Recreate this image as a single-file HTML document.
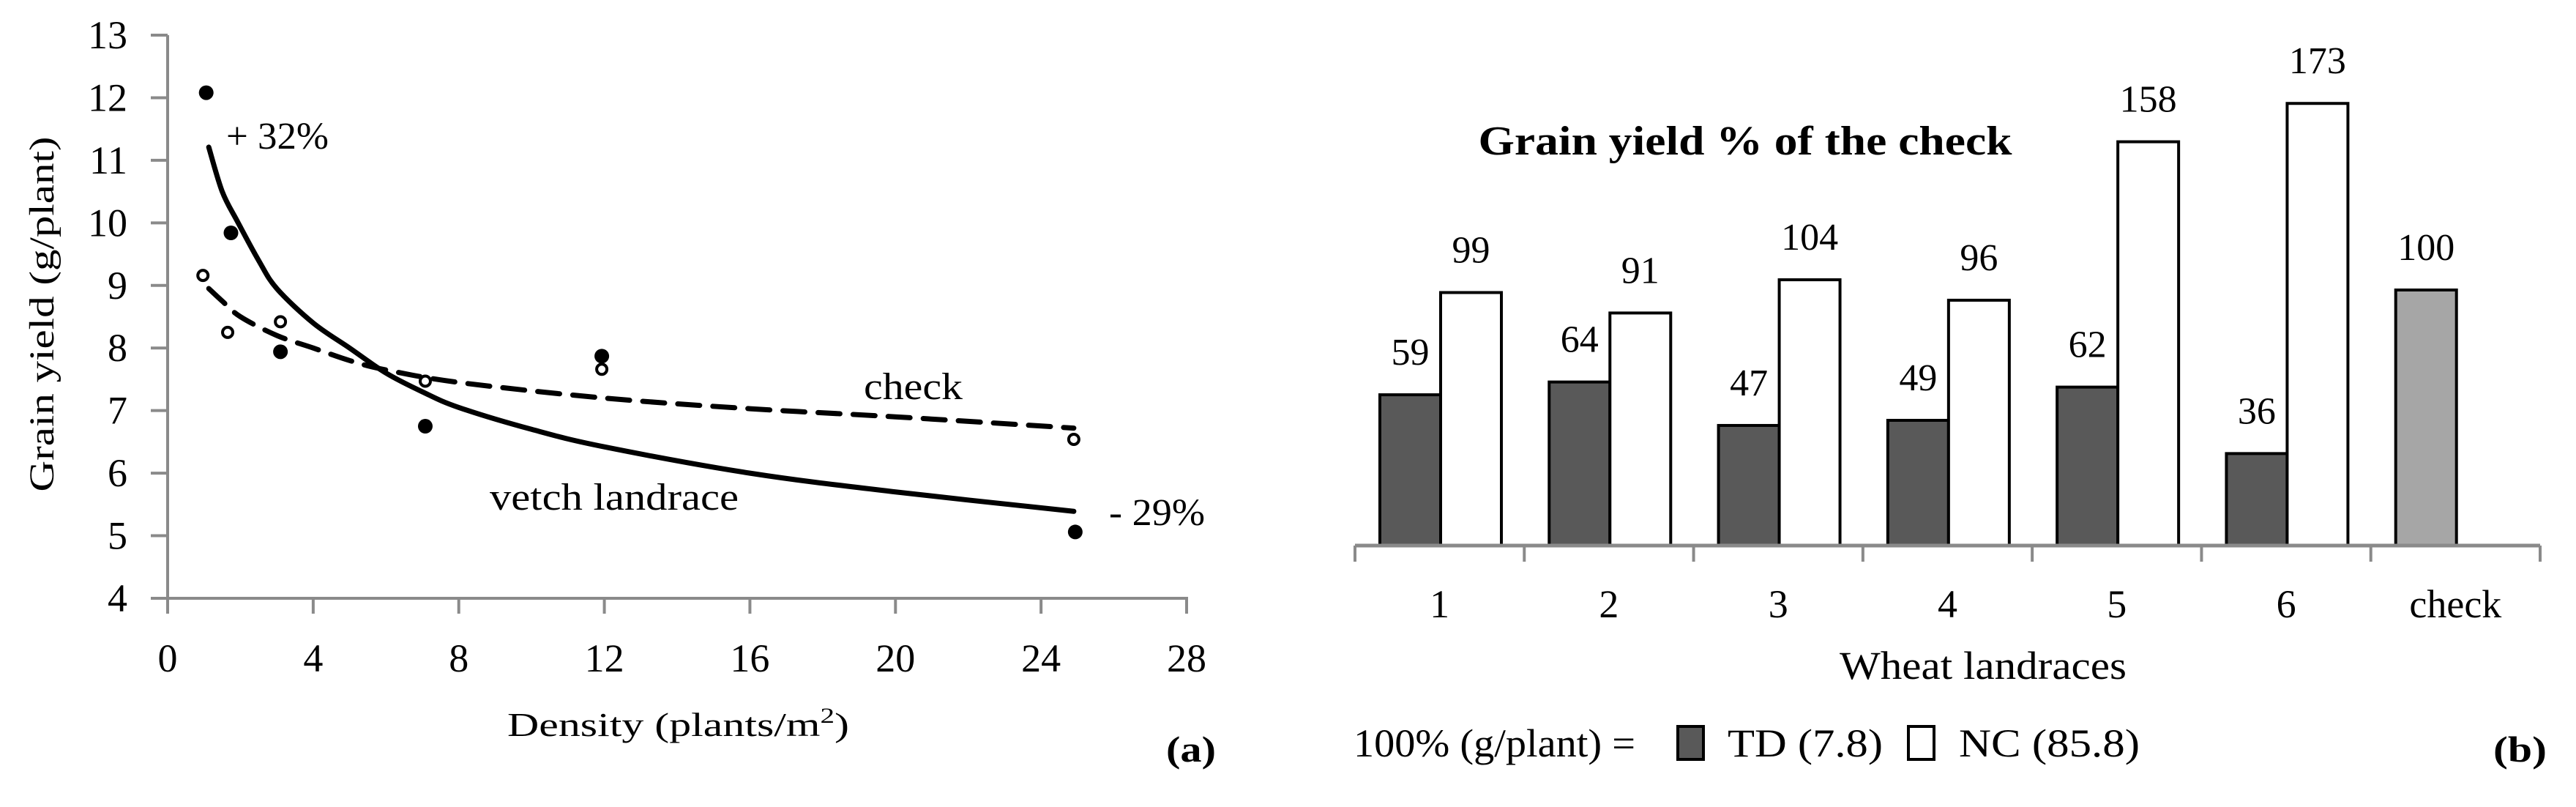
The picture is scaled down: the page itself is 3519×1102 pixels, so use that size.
<!DOCTYPE html>
<html><head><meta charset="utf-8"><style>
html,body{margin:0;padding:0;background:#fff;}
svg{display:block;font-family:"Liberation Serif",serif;}
</style></head><body>
<svg id="chart" width="3519" height="1102" viewBox="0 0 3519 1102" xmlns="http://www.w3.org/2000/svg">
<g id="left"></g>
<g id="right"></g>
</svg>
<script>
// ---------- Panel (a) data ----------
const xTicks = [0,4,8,12,16,20,24,28];
const yTicks = [4,5,6,7,8,9,10,11,12,13];
const vetchX = [1.06,1.74,3.1,7.08,11.93,24.94];
const vetchY = [12.08,9.84,7.94,6.75,7.87,5.06];
const checkX = [0.97,1.65,3.1,7.08,11.93,24.9];
const checkY = [9.16,8.25,8.42,7.47,7.66,6.54];
const vetchTrendX = [1.13,1.5,1.92,2.5,3,4,5,6,7,8,10,12,16,20,24.9];
const vetchTrendY = [11.21,10.5,10.02,9.4,8.95,8.4,8.0,7.6,7.3,7.05,6.7,6.42,6.0,5.7,5.39];
const checkTrendX = [1.13,1.5,2,3,4,5,6,8,12,16,20,24.9];
const checkTrendY = [8.95,8.75,8.5,8.2,8.0,7.8,7.65,7.45,7.2,7.03,6.9,6.72];
// ---------- Panel (b) data ----------
const categories = ["1","2","3","4","5","6","check"];
const tdValues = [59,64,47,49,62,36,null];
const ncValues = [99,91,104,96,158,173,null];
const checkValues = [null,null,null,null,null,null,100];

const NS="http://www.w3.org/2000/svg";
function mk(tag,attrs,parent,text){const e=document.createElementNS(NS,tag);for(const k in attrs)e.setAttribute(k,attrs[k]);if(text!==undefined)e.textContent=text;parent.appendChild(e);return e;}

// ---- axes a ----
const L=document.getElementById('left');
const X0=229,X1=1621,Y0=817,Y1=48;
const sx=v=>X0+(v-0)/(28-0)*(X1-X0);
const sy=v=>Y0-(v-4)/(13-4)*(Y0-Y1);
const axisColor="#8a8a8a";
let e;
e=mk('line',{x1:X0,y1:Y1,x2:X0,y2:Y0,stroke:axisColor,'stroke-width':4},L);

e=mk('line',{x1:X0-2,y1:Y0,x2:X1+2,y2:Y0,stroke:axisColor,'stroke-width':4},L);

yTicks.forEach(t=>{
  e=mk('line',{x1:X0-23,y1:sy(t),x2:X0,y2:sy(t),stroke:axisColor,'stroke-width':4},L);
  
  e=mk('text',{x:174,y:sy(t)+18,'font-size':54,'text-anchor':'end'},L,String(t));
  
});
xTicks.forEach(t=>{
  e=mk('line',{x1:sx(t),y1:Y0,x2:sx(t),y2:Y0+21,stroke:axisColor,'stroke-width':4},L);
  
  e=mk('text',{x:sx(t),y:917,'font-size':54,'text-anchor':'middle'},L,String(t));
  
});
// curves
function smooth(xs,ys){
  const p=xs.map((x,i)=>[sx(x),sy(ys[i])]);
  let d=`M${p[0][0]},${p[0][1]}`;
  for(let i=0;i<p.length-1;i++){
    const p0=p[i-1]||p[i],p1=p[i],p2=p[i+1],p3=p[i+2]||p[i+1];
    const c1=[p1[0]+(p2[0]-p0[0])/6,p1[1]+(p2[1]-p0[1])/6];
    const c2=[p2[0]-(p3[0]-p1[0])/6,p2[1]-(p3[1]-p1[1])/6];
    d+=` C${c1[0]},${c1[1]} ${c2[0]},${c2[1]} ${p2[0]},${p2[1]}`;
  }
  return d;
}
e=mk('path',{d:smooth(checkTrendX,checkTrendY),fill:'none',stroke:'#000','stroke-width':7,'stroke-dasharray':'30 18','stroke-linecap':'round'},L);

e=mk('path',{d:smooth(vetchTrendX,vetchTrendY),fill:'none',stroke:'#000','stroke-width':7,'stroke-linecap':'round'},L);

vetchX.forEach((x,i)=>{
  e=mk('circle',{cx:sx(x),cy:sy(vetchY[i]),r:10,fill:'#000'},L);
  
});
checkX.forEach((x,i)=>{
  e=mk('circle',{cx:sx(x),cy:sy(checkY[i]),r:7,fill:'#fff',stroke:'#000','stroke-width':4},L);
  
});
e=mk('text',{x:309,y:203,'font-size':52,textLength:140,lengthAdjust:'spacingAndGlyphs'},L,'+ 32%');

e=mk('text',{x:1515,y:717,'font-size':52,textLength:131,lengthAdjust:'spacingAndGlyphs'},L,'- 29%');

e=mk('text',{x:1180,y:545,'font-size':52,textLength:135,lengthAdjust:'spacingAndGlyphs'},L,'check');

e=mk('text',{x:669,y:696,'font-size':52,textLength:340,lengthAdjust:'spacingAndGlyphs'},L,'vetch landrace');

e=mk('text',{x:693,y:1005,'font-size':46,textLength:467,lengthAdjust:'spacingAndGlyphs'},L);

e.innerHTML='Density (plants/m<tspan dy="-18" font-size="30">2</tspan><tspan dy="18">)</tspan>';
e=mk('text',{x:0,y:0,'font-size':48,'text-anchor':'middle',textLength:485,lengthAdjust:'spacingAndGlyphs',transform:'translate(73,429) rotate(-90)'},L,'Grain yield (g/plant)');

e=mk('text',{x:1593,y:1040,'font-size':50,'font-weight':'bold',textLength:68,lengthAdjust:'spacingAndGlyphs'},L,'(a)');


// ---- panel b ----
const R=document.getElementById('right');
const BX0=1851,BX1=3470,BY0=745;
const catW=(BX1-BX0)/categories.length;
const barW=83, barOff=34;
const vy=v=>BY0-v*3.49;
function bar(ci,slot,v,fill,name){
  const x=BX0+ci*catW+barOff+slot*barW;
  const r=mk('rect',{x:x,y:vy(v),width:barW,height:BY0-vy(v),fill:fill,stroke:'#000','stroke-width':4},R);
  
  
  const t=mk('text',{x:x+barW/2,y:vy(v)-41,'font-size':52,'text-anchor':'middle'},R,String(v));
  
  
}
categories.forEach((c,i)=>{
  if(tdValues[i]!=null) bar(i,0,tdValues[i],'#595959','td-bar');
  if(ncValues[i]!=null) bar(i,1,ncValues[i],'#ffffff','nc-bar');
  if(checkValues[i]!=null) bar(i,0,checkValues[i],'#a6a6a6','check-bar');
  e=mk('text',{x:BX0+(i+0.5)*catW,y:843,'font-size':54,'text-anchor':'middle'},R,c);
  
});
e=mk('line',{x1:BX0,y1:BY0,x2:BX1,y2:BY0,stroke:axisColor,'stroke-width':5},R);

for(let i=0;i<=categories.length;i++){
  e=mk('line',{x1:BX0+i*catW,y1:BY0,x2:BX0+i*catW,y2:BY0+22,stroke:axisColor,'stroke-width':4},R);
  
}
e=mk('text',{x:2384,y:211,'font-size':56,'font-weight':'bold','text-anchor':'middle',textLength:729,lengthAdjust:'spacingAndGlyphs'},R,'Grain yield % of the check');

e=mk('text',{x:2709,y:927,'font-size':54,'text-anchor':'middle',textLength:392,lengthAdjust:'spacingAndGlyphs'},R,'Wheat landraces');

e=mk('text',{x:1849,y:1033,'font-size':54,textLength:385,lengthAdjust:'spacingAndGlyphs'},R,'100% (g/plant) =');

e=mk('rect',{x:2292,y:992,width:35,height:45,fill:'#595959',stroke:'#000','stroke-width':4},R);

e=mk('text',{x:2360,y:1033,'font-size':54,textLength:212,lengthAdjust:'spacingAndGlyphs'},R,'TD (7.8)');

e=mk('rect',{x:2607,y:992,width:35,height:45,fill:'#fff',stroke:'#000','stroke-width':4},R);

e=mk('text',{x:2676,y:1033,'font-size':54,textLength:247,lengthAdjust:'spacingAndGlyphs'},R,'NC (85.8)');

e=mk('text',{x:3406,y:1040,'font-size':50,'font-weight':'bold',textLength:73,lengthAdjust:'spacingAndGlyphs'},R,'(b)');

</script>
</body></html>
